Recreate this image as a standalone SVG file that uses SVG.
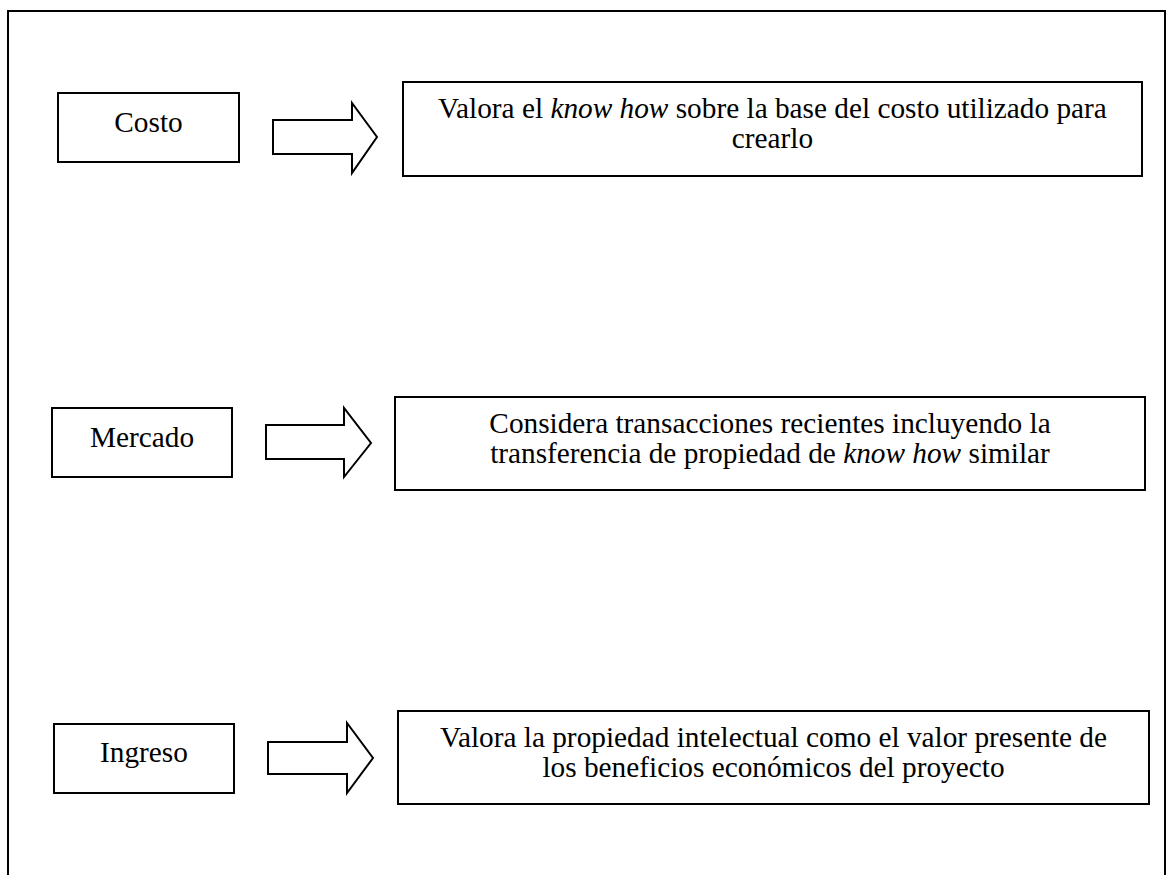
<svg xmlns="http://www.w3.org/2000/svg" width="1166" height="875" viewBox="0 0 1166 875">
<style>
.box{fill:#fff;stroke:#000;stroke-width:2}
.arrow{fill:#fff;stroke:#000;stroke-width:2;stroke-linejoin:miter}
.t{font-family:"Liberation Serif","Times New Roman",serif;font-size:29.3px;fill:#000;text-anchor:middle}
.i{font-style:italic}
</style>
<rect width="1166" height="875" fill="#fff"/>
<path d="M8,875 V11 H1165 V875" fill="none" stroke="#000" stroke-width="2"/>
<g id="costo"><rect class="box" x="58" y="93" width="181" height="69"/><text class="t" x="148.5" y="132">Costo</text></g>
<g id="mercado"><rect class="box" x="52" y="408" width="180" height="69"/><text class="t" x="142" y="447">Mercado</text></g>
<g id="ingreso"><rect class="box" x="54" y="724" width="180" height="69"/><text class="t" x="144" y="762">Ingreso</text></g>
<g id="desc-costo"><rect class="box" x="403" y="82" width="739" height="94"/><text class="t" x="772.5" y="118">Valora el <tspan class="i">know how</tspan> sobre la base del costo utilizado para</text><text class="t" x="772.5" y="148">crearlo</text></g>
<g id="desc-mercado"><rect class="box" x="395" y="397" width="750" height="93"/><text class="t" x="770" y="433">Considera transacciones recientes incluyendo la</text><text class="t" x="770" y="463">transferencia de propiedad de <tspan class="i">know how</tspan> similar</text></g>
<g id="desc-ingreso"><rect class="box" x="398" y="711" width="751" height="93"/><text class="t" x="773.5" y="747">Valora la propiedad intelectual como el valor presente de</text><text class="t" x="773.5" y="777">los beneficios económicos del proyecto</text></g>
<g id="connectors">
<polygon class="arrow" points="273,120 352,120 352,103 377,137 352,173 352,154 273,154"/>
<polygon class="arrow" points="266,425 344,425 344,408 371,443 344,477 344,459 266,459"/>
<polygon class="arrow" points="268,742 347,742 347,723 373,758 347,793 347,774 268,774"/>
</g>
</svg>
